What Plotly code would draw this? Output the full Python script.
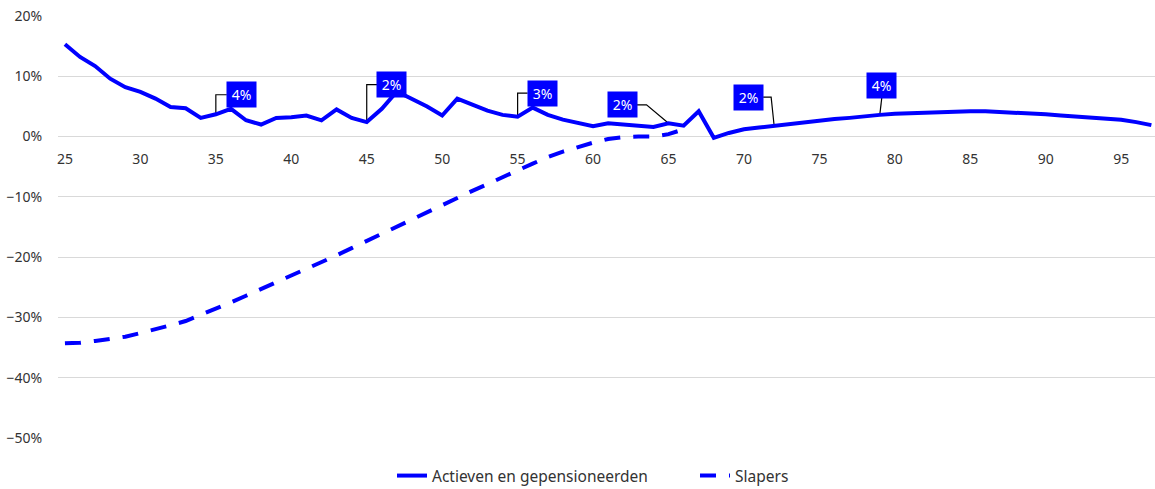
import plotly.graph_objects as go

# Ages on the x axis
ages_actief = list(range(25, 98))
ages_slaper = list(range(25, 67))

# Percentage change per age, active members and pensioners
actief = [
    15.3, 13.2, 11.7, 9.6, 8.2, 7.4, 6.3, 4.9, 4.7, 3.1,   # 25-34
    3.7, 4.6, 2.7, 2.0, 3.1, 3.2, 3.5, 2.7, 4.5, 3.1,      # 35-44
    2.4, 4.6, 7.5, 6.3, 5.0, 3.5, 6.3, 5.3, 4.3, 3.6,      # 45-54
    3.3, 4.8, 3.6, 2.8, 2.2, 1.7, 2.2, 2.0, 1.7, 1.6,      # 55-64
    2.2, 1.8, 4.2, -0.2, 0.6, 1.2, 1.5, 1.8, 2.1, 2.4,     # 65-74
    2.65, 2.9, 3.1, 3.4, 3.6, 3.8, 3.9, 4.0, 4.1, 4.2,     # 75-84
    4.2, 4.2, 4.1, 4.0, 3.9, 3.7, 3.5, 3.3, 3.2, 3.0,      # 85-94
    2.8, 2.4, 1.9,                                         # 95-97
]

# Percentage change per age, deferred members
slapers = [
    -34.3, -34.2, -33.9, -33.6, -33.2, -32.6, -32.0, -31.3, -30.6, -29.6,  # 25-34
    -28.6, -27.5, -26.4, -25.3, -24.2, -23.1, -22.0, -20.9, -19.7, -18.5,  # 35-44
    -17.3, -16.1, -14.9, -13.7, -12.6, -11.4, -10.2, -9.0, -7.9, -6.7,     # 45-54
    -5.6, -4.5, -3.4, -2.5, -1.7, -1.0, -0.4, -0.1, 0.0, 0.0,              # 55-64
    0.4, 1.2,                                                              # 65-66
]

# Ages that get a value label on the active line
label_ages = [35, 45, 55, 65, 72, 79]

# Label box offsets (px from the point) and elbow connector paths (px)
label_offsets = [(25.5, 19.5), (25, 37.5), (24.5, 23.5), (-46, 18.5), (-26, 28.5), (2, 29.5)]
connector_paths = [
    "M0,0 L0,19.5 L11,19.5",
    "M0,0 L0,37.5 L10.5,37.5",
    "M0,0 L0,23.5 L10,23.5",
    "M0,0 L-22,18.5 L-31.5,18.5",
    "M0,0 L-3,28.5 L-11,28.5",
    "M0,0 L2,17",
]

BLUE = "#0000FF"
FONT = "Noto Sans"
Y_MIN, Y_MAX = -50, 20

fig = go.Figure()
fig.add_trace(go.Scatter(
    x=ages_actief, y=actief, mode="lines",
    name="Actieven en gepensioneerden",
    line=dict(color=BLUE, width=4),
))
fig.add_trace(go.Scatter(
    x=ages_slaper, y=slapers, mode="lines",
    name="Slapers",
    line=dict(color=BLUE, width=4, dash="16px,13px"),
))

for age, (dx, dy), path in zip(label_ages, label_offsets, connector_paths):
    val = actief[ages_actief.index(age)]
    fig.add_shape(
        type="path", xref="x", yref="y",
        xsizemode="pixel", ysizemode="pixel",
        xanchor=age, yanchor=val, path=path,
        line=dict(color="black", width=1.2), layer="below",
    )
    fig.add_annotation(
        x=age, y=val, xref="x", yref="y",
        text=f"{round(val)}%", showarrow=False,
        xshift=dx, yshift=dy,
        bgcolor=BLUE, width=27, height=23, borderpad=1,
        font=dict(family=FONT, size=14, color="white"),
    )

fig.update_layout(
    width=1155, height=489,
    margin=dict(l=58, r=0, t=16, b=51, autoexpand=False),
    paper_bgcolor="white", plot_bgcolor="white",
    font=dict(family=FONT, size=14, color="#333333"),
    showlegend=True,
    legend=dict(
        orientation="h", xref="container", yref="container",
        x=392 / 1155, xanchor="left",
        y=1 - 476 / 489, yanchor="middle",
        font=dict(family=FONT, size=15.5, color="#333333"),
        entrywidth=258,
    ),
    xaxis=dict(
        range=[24.54, 97.24], tick0=25, dtick=5,
        showgrid=False, zeroline=False, showline=False,
        anchor="free", position=(0 - Y_MIN) / (Y_MAX - Y_MIN),
        ticks="outside", ticklen=10, tickcolor="rgba(0,0,0,0)",
    ),
    yaxis=dict(
        range=[Y_MIN, Y_MAX], dtick=10, ticksuffix="%",
        showgrid=True, gridcolor="#d9d9d9", gridwidth=1,
        zeroline=False, showline=False,
        ticks="outside", ticklen=12, tickcolor="rgba(0,0,0,0)",
    ),
)

fig.write_html("out.html")
